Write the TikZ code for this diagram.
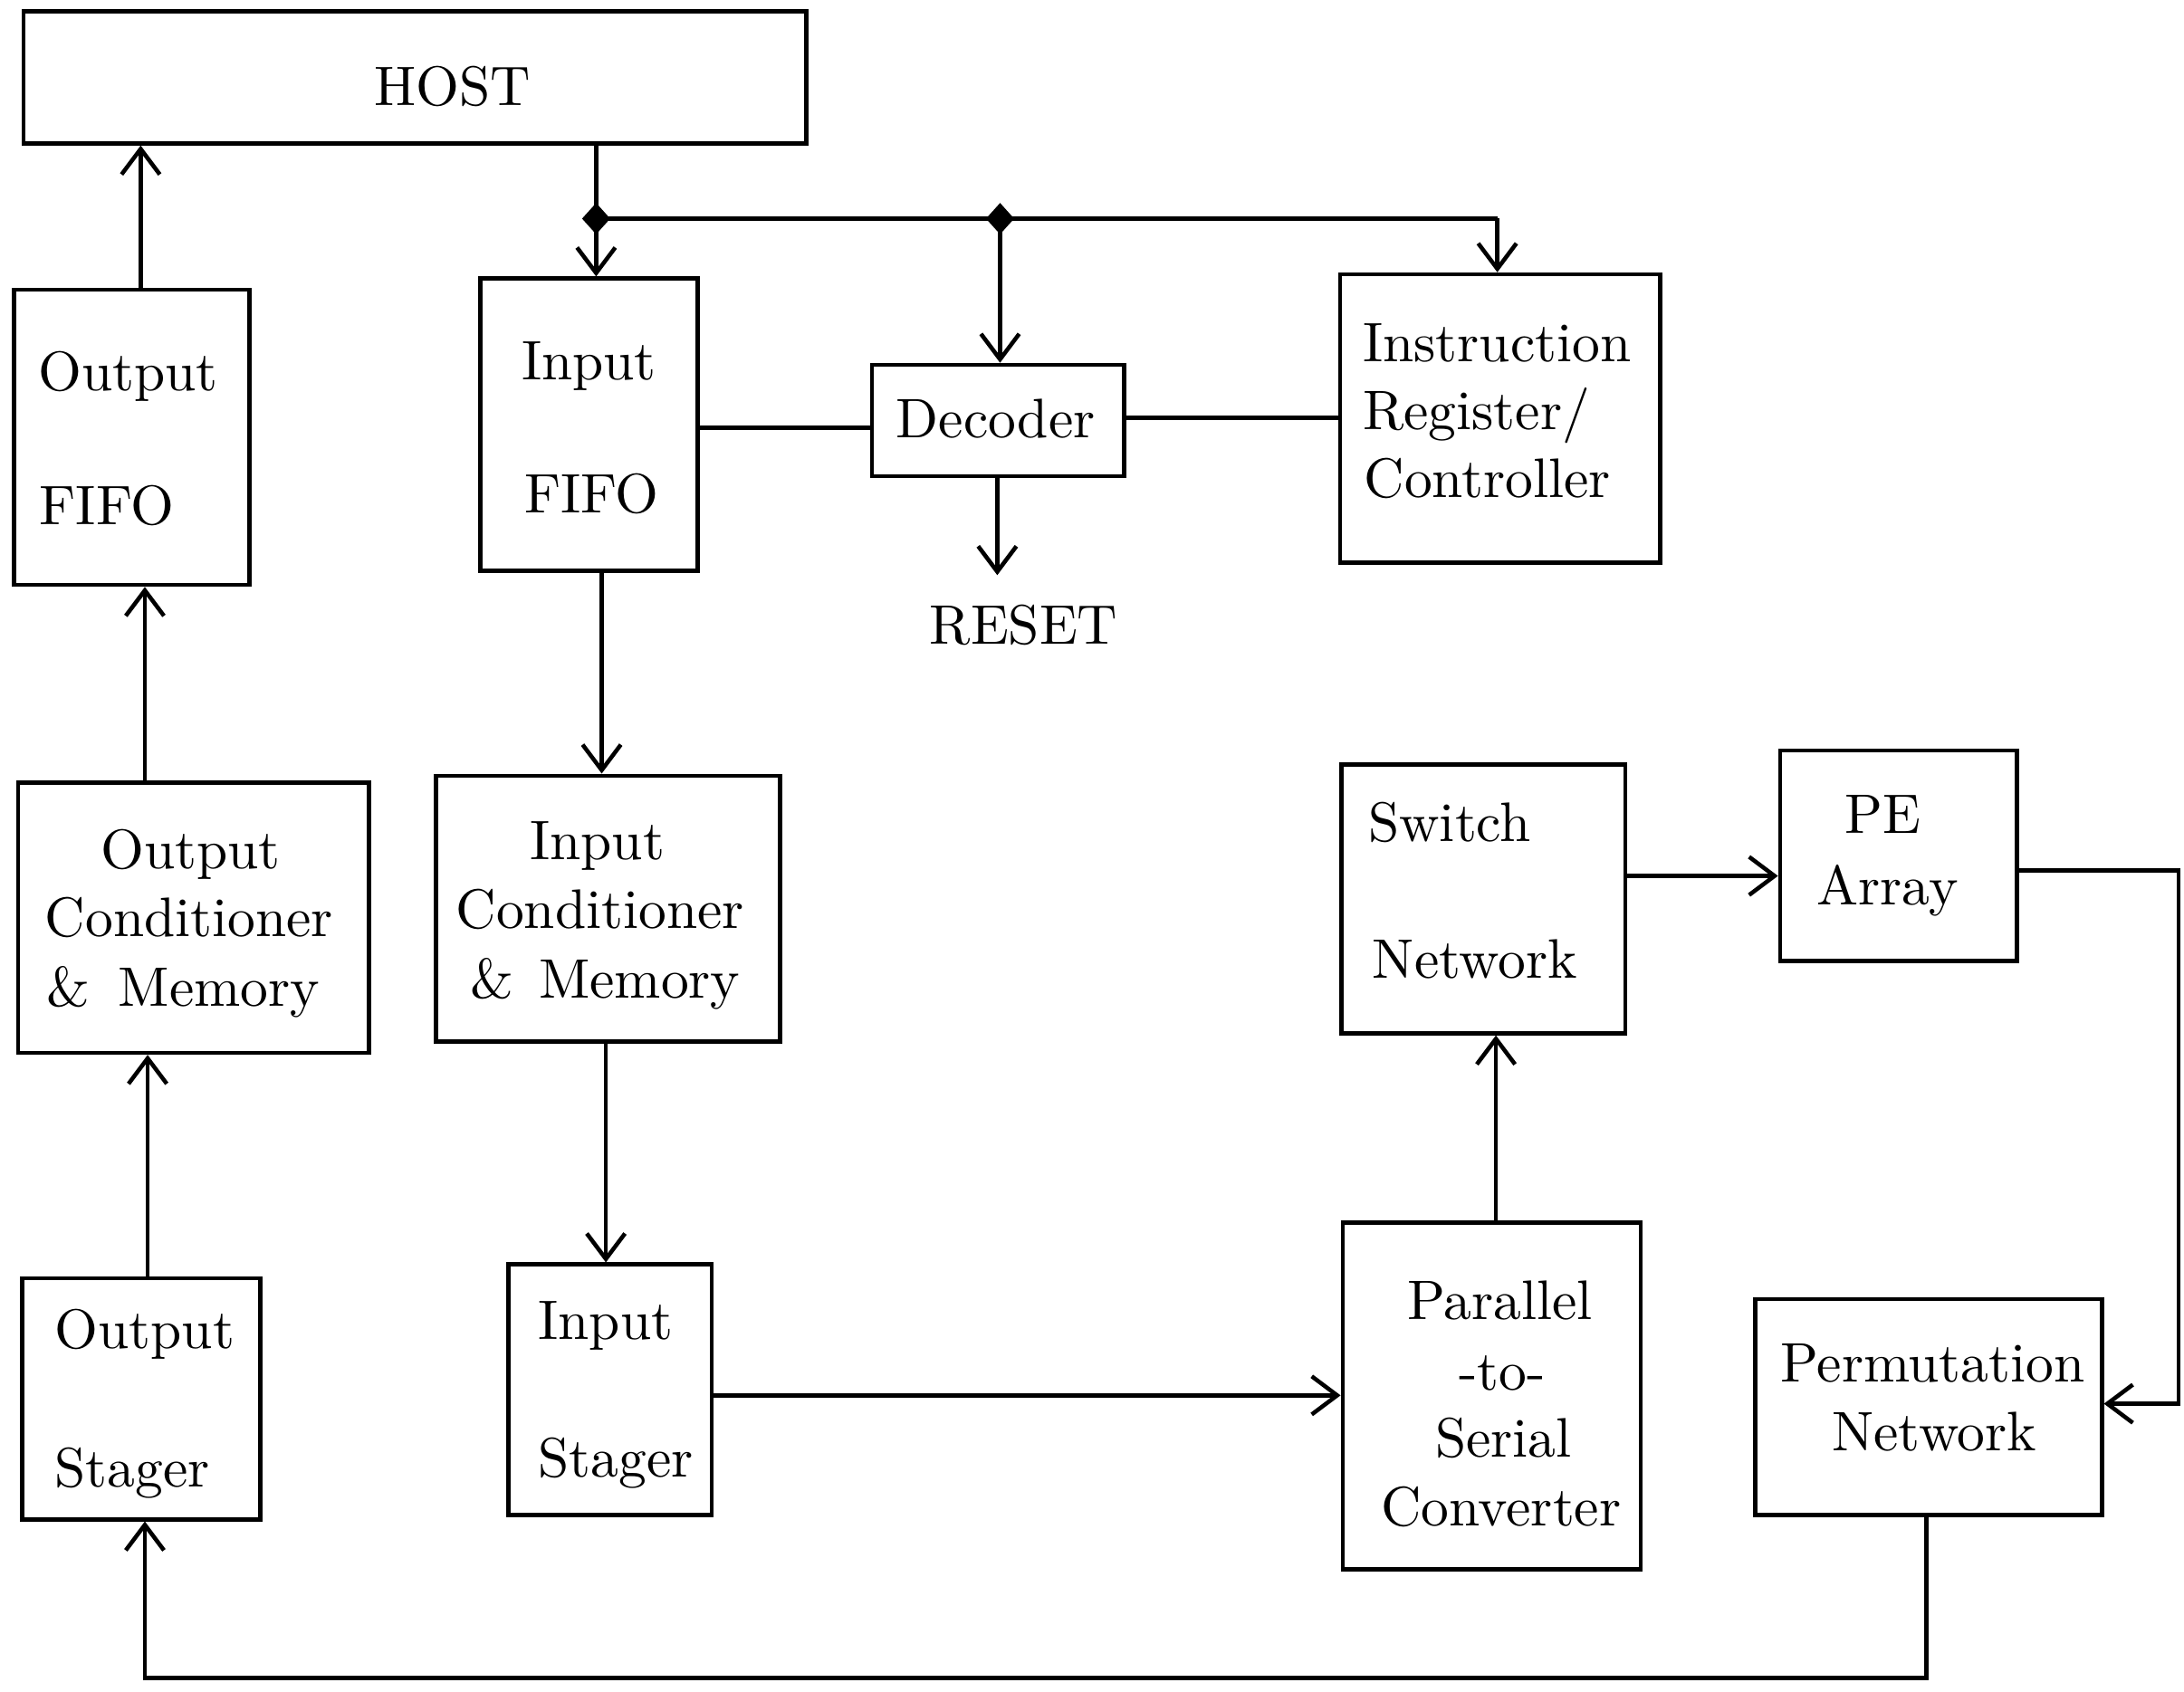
\documentclass[tikz,border=0pt]{standalone}
\usepackage{fontspec}
\usetikzlibrary{arrows.meta,fit,shapes.geometric}
\newfontfamily\blockfont{lmroman10-regular}[Extension=.otf]
\begin{document}
\begin{tikzpicture}[x=0.015383cm, y=-0.015383cm,
  blk/.style={draw, line width=1.3pt, inner sep=0pt},
  lbl/.style={anchor=base west, inner sep=0pt, font=\blockfont\fontsize{17.5}{21}\selectfont},
  lblc/.style={anchor=base, inner sep=0pt, font=\blockfont\fontsize{17.5}{21}\selectfont},
  wire/.style={line width=1.3pt},
  flow/.style={line width=1.3pt, -{Straight Barb[length=8pt,width=12pt]}},
  dotj/.style={diamond, fill, inner sep=0pt, minimum width=9pt, minimum height=10pt}]

\useasboundingbox (0,0) rectangle (1568,1215);

% blocks
\node[blk, fit={(17,8) (579,103)}] (host) {};
\node[blk, fit={(10,208) (179,420)}] (ofifo) {};
\node[blk, fit={(345,200) (501,410)}] (ififo) {};
\node[blk, fit={(626,262) (807,342)}] (dec) {};
\node[blk, fit={(962,197) (1192,404)}] (ir) {};
\node[blk, fit={(13,562) (265,756)}] (ocond) {};
\node[blk, fit={(313,557) (560,748)}] (icond) {};
\node[blk, fit={(963,549) (1167,742)}] (sw) {};
\node[blk, fit={(1278,539) (1448,690)}] (pe) {};
\node[blk, fit={(16,918) (187,1091)}] (ostg) {};
\node[blk, fit={(365,908) (511,1088)}] (istg) {};
\node[blk, fit={(964,878) (1178,1127)}] (p2s) {};
\node[blk, fit={(1260,933) (1509,1088)}] (perm) {};

% labels
\node[lblc] (tHost) at (325,75.5) {HOST};
\node[lbl] (tOf1) at (27,280.5) {Output};
\node[lbl] (tOf2) at (28,376.5) {FIFO};
\node[lbl] (tIf1) at (374,272.5) {Input};
\node[lbl] (tIf2) at (376,368.5) {FIFO};
\node[lbl] (tDec) at (643,314.5) {Decoder};
\node[lbl] (tIr1) at (978,259.5) {Instruction};
\node[lbl] (tIr2) at (978,308.5) {Register/};
\node[lbl] (tIr3) at (979,357.5) {Controller};
\node[lbl] (reset) at (667,462.5) {RESET};
\node[lbl] (tOc1) at (72,623.5) {Output};
\node[lbl] (tOc2) at (32,672.5) {Conditioner};
\node[lbl] (tOc3) at (33,722.5) {\&\hspace{9pt}Memory};
\node[lbl] (tIc1) at (380,617.5) {Input};
\node[lbl] (tIc2) at (327,666.5) {Conditioner};
\node[lbl] (tIc3) at (337,716.5) {\&\hspace{8pt}Memory};
\node[lbl] (tSw1) at (982,604.5) {Switch};
\node[lbl] (tSw2) at (985,702.5) {Network};
\node[lbl] (tPe1) at (1324,598.5) {PE};
\node[lbl] (tPe2) at (1304,649.5) {Array};
\node[lbl] (tOs1) at (39,968.5) {Output};
\node[lbl] (tOs2) at (39,1067.5) {Stager};
\node[lbl] (tIs1) at (386,961.5) {Input};
\node[lbl] (tIs2) at (386,1060.5) {Stager};
\node[lbl] (tPs1) at (1010,947.5) {Parallel};
\node[lbl] (tPs2) at (1047,998.5) {-to-};
\node[lbl] (tPs3) at (1030,1046.5) {Serial};
\node[lbl] (tPs4) at (991,1095.5) {Converter};
\node[lbl] (tPm1) at (1278,992.5) {Permutation};
\node[lbl] (tPm2) at (1315,1041.5) {Network};

% routing points
\coordinate (j1) at (428,157);
\coordinate (j2) at (718,157);
\coordinate (k1) at (1075,157);
\coordinate (xa) at (101,0);
\coordinate (xb) at (104,0);
\coordinate (xc) at (106,0);
\coordinate (xd) at (104,0);
\coordinate (fb) at (1383,1205);
\coordinate (ya) at (0,307);
\coordinate (yb) at (0,300);
\coordinate (rs) at (716,413);
\coordinate (xe) at (432,0);
\coordinate (xf) at (435,0);
\coordinate (yc) at (0,1002);
\coordinate (xg) at (1074,0);
\coordinate (yd) at (0,629);
\coordinate (ye) at (0,625);
\coordinate (xr) at (1564,0);
\coordinate (yf) at (0,1008);

% host bus
\draw[wire] (host.south -| j1) -- (j1);
\draw[flow] (j1) -- (ififo.north -| j1);
\draw[wire] (j1) -- (k1);
\draw[flow] (k1) -- (ir.north -| k1);
\draw[flow] (j2) -- (dec.north -| j2);
\node[dotj] (d1) at (j1) {};
\node[dotj] (d2) at (j2) {};

% output path
\draw[flow] (ofifo.north -| xa) -- (host.south -| xa);
\draw[flow] (ocond.north -| xb) -- (ofifo.south -| xb);
\draw[flow] (ostg.north -| xc) -- (ocond.south -| xc);
\draw[flow] (perm.south -| fb) -- (fb) -- (fb -| xd) -- (ostg.south -| xd);

% decoder links
\draw[wire] (ififo.east |- ya) -- (dec.west |- ya);
\draw[wire] (dec.east |- yb) -- (ir.west |- yb);
\draw[flow] (dec.south -| rs) -- (rs);

% input path
\draw[flow] (ififo.south -| xe) -- (icond.north -| xe);
\draw[flow] (icond.south -| xf) -- (istg.north -| xf);
\draw[flow] (istg.east |- yc) -- (p2s.west |- yc);
\draw[flow] (p2s.north -| xg) -- (sw.south -| xg);
\draw[flow] (sw.east |- yd) -- (pe.west |- yd);
\draw[flow] (pe.east |- ye) -- (xr |- ye) -- (xr |- yf) -- (perm.east |- yf);
\end{tikzpicture}
\end{document}
